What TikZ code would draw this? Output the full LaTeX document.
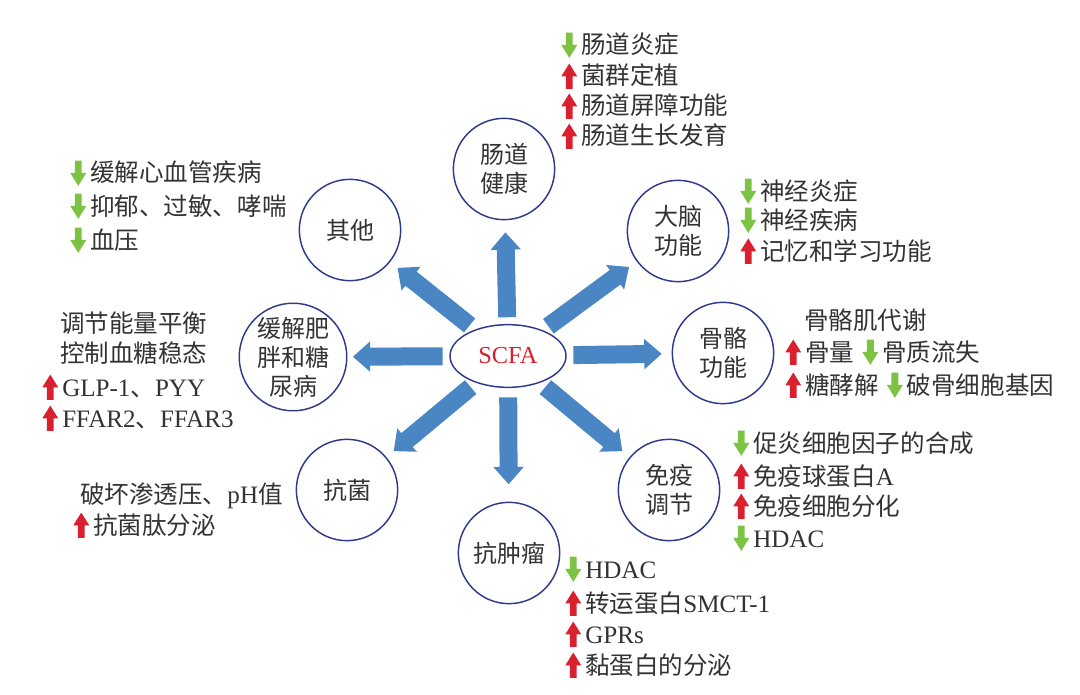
\documentclass[tikz,border=0pt]{standalone}
\usepackage{fontspec}
\setmainfont{Liberation Serif}
\newfontfamily\cjk{Noto Sans CJK SC}
\usetikzlibrary{arrows.meta,shapes.geometric}

\definecolor{ringblue}{HTML}{2E3A8C}
\definecolor{arrowblue}{HTML}{4A85C4}
\definecolor{upred}{HTML}{D9202E}
\definecolor{dngreen}{HTML}{7CC243}
\definecolor{txtgray}{HTML}{333333}

% small up / down marks in front of the effects
\newcommand{\upmk}{\tikz[baseline=0pt]\fill[upred] (-2.6pt,-2.9pt) -- (2.6pt,-2.9pt) -- (2.6pt,6.4pt) -- (6pt,6.4pt) -- (0pt,16.1pt) -- (-6pt,6.4pt) -- (-2.6pt,6.4pt) -- cycle;\hspace{3pt}}
\newcommand{\dnmk}{\tikz[baseline=0pt]\fill[dngreen] (-2.6pt,16.1pt) -- (2.6pt,16.1pt) -- (2.6pt,6.8pt) -- (6pt,6.8pt) -- (0pt,-2.9pt) -- (-6pt,6.8pt) -- (-2.6pt,6.8pt) -- cycle;\hspace{3pt}}
\newcommand{\latn}[1]{{\fontsize{18.8pt}{21.8pt}\rmfamily #1}}

\begin{document}
\begin{tikzpicture}[x=0.75pt, y=-0.75pt,
  hub/.style={ellipse, draw=ringblue, line width=1.1pt, minimum width=87pt, minimum height=47pt, inner sep=0pt, text=upred, font=\fontsize{18.3pt}{22pt}\selectfont},
  topic/.style={circle, draw=ringblue, line width=1.1pt, minimum size=76pt, inner sep=0pt, align=center, text=txtgray, font=\fontsize{18pt}{21.8pt}\cjk},
  fx/.style={anchor=base west, inner sep=0pt, text=txtgray, font=\fontsize{18.4pt}{21.8pt}\cjk},
  fatarrow/.style={draw=arrowblue, line width=13.5pt, -{Triangle[width=22pt,length=13pt]}, shorten <=5pt, shorten >=7pt}]
  \useasboundingbox (0,0) rectangle (1080,695);

  \node[hub] (scfa) at (508,356) {SCFA};
  \node[topic] (gut) at (504,169) {肠道\\健康};
  \node[topic] (brain) at (678,231) {大脑\\功能};
  \node[topic] (bone) at (723,353) {骨骼\\功能};
  \node[topic] (immune) at (669,490) {免疫\\调节};
  \node[topic] (tumor) at (509,553) {抗肿瘤};
  \node[topic] (antibac) at (347,490) {抗菌};
  \node[topic] (obesity) at (293,357) {缓解肥\\胖和糖\\尿病};
  \node[topic] (other) at (350,230) {其他};

  \draw[fatarrow, shorten >=9pt] (scfa) -- (gut);
  \draw[fatarrow] (scfa) -- (brain);
  \draw[fatarrow, shorten >=7.5pt] (scfa) -- (bone);
  \draw[fatarrow] (scfa) -- (immune);
  \draw[fatarrow, shorten <=7pt, shorten >=13pt] (scfa) -- (tumor);
  \draw[fatarrow] (scfa) -- (antibac);
  \draw[fatarrow, shorten >=4pt] (scfa) -- (obesity);
  \draw[fatarrow] (scfa) -- (other);

  % gut
  \node[fx] (gut1) at (561,54) {\dnmk 肠道炎症};
  \node[fx] (gut2) at (561,85) {\upmk 菌群定植};
  \node[fx] (gut3) at (561,115) {\upmk 肠道屏障功能};
  \node[fx] (gut4) at (561,145) {\upmk 肠道生长发育};
  % brain
  \node[fx] (brain1) at (740,200) {\dnmk 神经炎症};
  \node[fx] (brain2) at (740,229) {\dnmk 神经疾病};
  \node[fx] (brain3) at (740,260) {\upmk 记忆和学习功能};
  % bone
  \node[fx] (bone1) at (804,329) {骨骼肌代谢};
  \node[fx] (bone2) at (785,361) {\upmk 骨量\hspace{6pt}\dnmk 骨质流失};
  \node[fx] (bone3) at (785,394) {\upmk 糖酵解\hspace{6pt}\dnmk 破骨细胞基因};
  % immune
  \node[fx] (immune1) at (733,452) {\dnmk 促炎细胞因子的合成};
  \node[fx] (immune2) at (733,485) {\upmk 免疫球蛋白\latn{A}};
  \node[fx] (immune3) at (733,515) {\upmk 免疫细胞分化};
  \node[fx] (immune4) at (733,547) {\dnmk\latn{HDAC}};
  % tumor
  \node[fx] (tumor1) at (565,578) {\dnmk\latn{HDAC}};
  \node[fx] (tumor2) at (565,612) {\upmk 转运蛋白\latn{SMCT-1}};
  \node[fx] (tumor3) at (565,643) {\upmk\latn{GPRs}};
  \node[fx] (tumor4) at (565,674) {\upmk 黏蛋白的分泌};
  % antibacterial
  \node[fx] (antibac1) at (80,503) {破坏渗透压、\latn{pH}值};
  \node[fx] (antibac2) at (73,534) {\upmk 抗菌肽分泌};
  % obesity
  \node[fx] (obesity1) at (60,332) {调节能量平衡};
  \node[fx] (obesity2) at (60,362) {控制血糖稳态};
  \node[fx] (obesity3) at (42,396) {\upmk\latn{GLP-1}、\latn{PYY}};
  \node[fx] (obesity4) at (42,427) {\upmk\latn{FFAR2}、\latn{FFAR3}};
  % others
  \node[fx] (other1) at (70,182) {\dnmk 缓解心血管疾病};
  \node[fx] (other2) at (70,215) {\dnmk 抑郁、过敏、哮喘};
  \node[fx] (other3) at (70,249) {\dnmk 血压};
\end{tikzpicture}
\end{document}
